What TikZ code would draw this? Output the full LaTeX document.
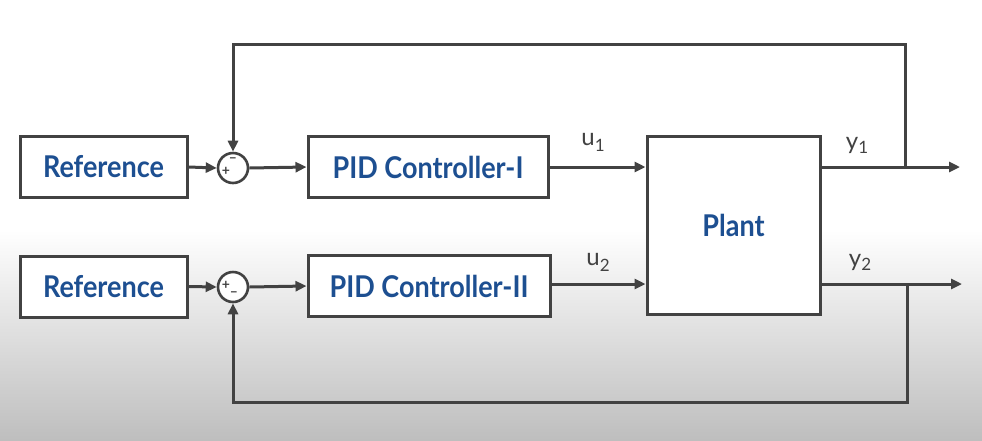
\documentclass[tikz,border=0pt]{standalone}
\usepackage{fontspec}
\setmainfont{Lato}
\newfontfamily\blockfont{Lato}
\newfontfamily\labelfont{Lato}
\usetikzlibrary{arrows.meta,shadows}
\definecolor{txtblue}{HTML}{1D4F91}
\definecolor{linegray}{HTML}{424242}
\tikzset{
  blockbox/.style={draw=linegray,line width=3pt,fill=white,minimum width=167pt,minimum height=61pt,inner sep=0pt,
    font=\blockfont\bfseries\fontsize{30}{34}\selectfont,text=txtblue,
    drop shadow={opacity=0.25,shadow xshift=1.5pt,shadow yshift=-1.5pt}},
  sumnode/.style={draw=linegray,line width=2.6pt,fill=white,circle,minimum size=30pt,inner sep=0pt},
  wire/.style={draw=linegray,line width=3pt},
  arrowwire/.style={wire,-{Triangle[length=11pt,width=10pt]}},
  signlbl/.style={font=\labelfont\bfseries\fontsize{14}{15}\selectfont,text=linegray,inner sep=0pt},
  siglbl/.style={font=\labelfont\fontsize{24}{28}\selectfont,text=linegray,inner sep=0pt}
}
\begin{document}
\begin{tikzpicture}[x=1pt,y=-1pt]
\useasboundingbox (0,0) rectangle (982,440);
\fill[white] (0,0) rectangle (982,230);
\shade[top color=white,bottom color={rgb,255:red,190;green,190;blue,190}] (0,230) rectangle (982,440);

\node[blockbox] (ref1) at (103.5,167) {\scalebox{0.9}[1.0]{Reference}};
\node[blockbox] (ref2) at (103.5,286.5) {\scalebox{0.9}[1.0]{Reference}};
\node[sumnode] (s1) at (233,168) {};
\node[sumnode] (s2) at (233,287) {};
\node[blockbox,minimum width=240pt] (pid1) at (428,167) {\scalebox{0.9}[1.0]{PID Controller-I}};
\node[blockbox,minimum width=242pt] (pid2) at (429,286) {\scalebox{0.9}[1.0]{PID Controller-II}};
\node[blockbox,minimum width=173pt,minimum height=178pt] (plant) at (733.5,225) {\scalebox{0.9}[1.0]{Plant}};

\node[signlbl] (s1m) at (233,160) {–};
\node[signlbl] (s1p) at (226,171) {+};
\node[signlbl] (s2p) at (226,285) {+};
\node[signlbl] (s2m) at (234,294) {–};

\coordinate (out1) at (960,167);
\coordinate (out2) at (962,284);
\coordinate (br1) at (905,167);
\coordinate (br2) at (907,284);
\coordinate (top1) at (905,44);
\coordinate (top2) at (233,44);
\coordinate (bot1) at (907,402);
\coordinate (bot2) at (233,402);

\draw[arrowwire] (ref1.east) -- (s1.west);
\draw[arrowwire] (ref2.east) -- (s2.west);
\draw[arrowwire] (s1.east) -- (pid1.west);
\draw[arrowwire] (s2.east) -- (pid2.west);
\draw[arrowwire] (pid1.east) -- (pid1.east -| plant.west);
\draw[arrowwire] (pid2.east |- out2) -- (out2 -| plant.west);
\draw[arrowwire] (out1 -| plant.east) -- (out1);
\draw[arrowwire] (out2 -| plant.east) -- (out2);
\draw[arrowwire] (br1) -- (top1) -- (top2) -- (s1.north);
\draw[arrowwire] (br2) -- (bot1) -- (bot2) -- (s2.south);

\node[siglbl] (u1) at (593,142) {u\raisebox{-6pt}{\fontsize{17}{20}\selectfont 1}};
\node[siglbl] (u2) at (598,262) {u\raisebox{-6pt}{\fontsize{17}{20}\selectfont 2}};
\node[siglbl] (y1) at (857,145) {y\raisebox{-4pt}{\fontsize{17}{20}\selectfont 1}};
\node[siglbl] (y2) at (860,262) {y\raisebox{-4pt}{\fontsize{17}{20}\selectfont 2}};
\end{tikzpicture}
\end{document}
